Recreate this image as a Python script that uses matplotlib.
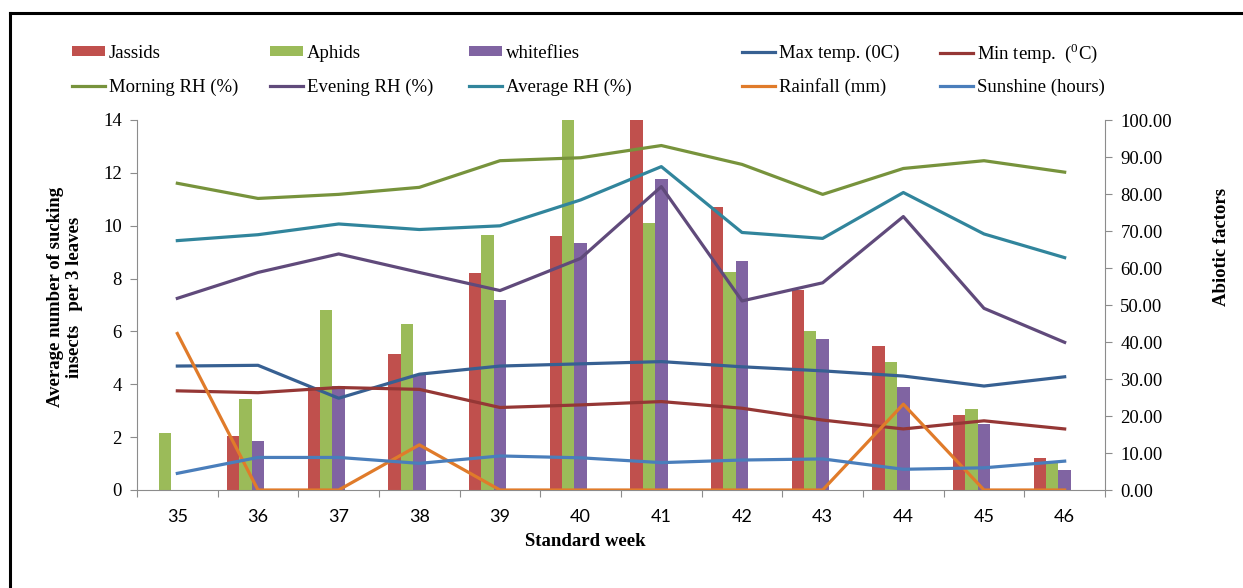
import matplotlib
matplotlib.use('Agg')
import matplotlib.pyplot as plt
from matplotlib.lines import Line2D
import numpy as np

weeks = ['35', '36', '37', '38', '39', '40', '41', '42', '43', '44', '45', '46']
jassids = [0, 2.05, 3.9, 5.15, 8.2, 9.6, 14.0, 10.7, 7.55, 5.45, 2.85, 1.2]
aphids = [2.15, 3.45, 6.8, 6.3, 9.65, 14.0, 10.1, 8.25, 6.0, 4.85, 3.05, 1.1]
whiteflies = [0, 1.85, 3.95, 4.35, 7.2, 9.35, 11.75, 8.65, 5.7, 3.9, 2.5, 0.75]
max_temp = [33.5, 33.7, 24.8, 31.3, 33.5, 34.1, 34.7, 33.3, 32.2, 30.8, 28.1, 30.6]
min_temp = [26.8, 26.3, 27.7, 27.2, 22.3, 23.0, 23.9, 22.1, 18.9, 16.5, 18.7, 16.5]
morning_rh = [82.9, 78.8, 79.9, 81.8, 89.0, 89.8, 93.1, 88.0, 79.9, 86.9, 89.0, 85.9]
evening_rh = [51.8, 58.8, 63.8, 58.8, 53.9, 62.6, 82.0, 51.1, 56.0, 73.9, 49.1, 39.9]
average_rh = [67.4, 69.0, 71.9, 70.4, 71.4, 78.4, 87.4, 69.6, 68.0, 80.4, 69.2, 62.8]
rainfall = [42.3, 0, 0, 12.2, 0, 0, 0, 0, 0, 23.2, 0, 0]
sunshine = [4.5, 8.8, 8.8, 7.2, 9.2, 8.7, 7.4, 8.1, 8.4, 5.6, 6.0, 7.8]

plt.rcParams['font.family'] = ['Liberation Serif', 'DejaVu Serif']
plt.rcParams['mathtext.fontset'] = 'custom'
plt.rcParams['mathtext.rm'] = 'Liberation Serif'

W, H = 1243, 588
fig = plt.figure(figsize=(W / 100, H / 100), dpi=100)
L, R, B, T = 137, 1105, 490, 120
ax = fig.add_axes([L / W, 1 - B / H, (R - L) / W, (B - T) / H])
ax2 = ax.twinx()

x = np.arange(len(weeks))
w = 0.154
b1 = ax.bar(x - 2 * w, jassids, w, color='#C0504D', label='Jassids')
b2 = ax.bar(x - w, aphids, w, color='#9BBB59', label='Aphids')
b3 = ax.bar(x, whiteflies, w, color='#8064A2', label='whiteflies')

lw = 2.3
l_max, = ax2.plot(x, max_temp, color='#376092', lw=lw, label='Max temp. (0C)')
l_min, = ax2.plot(x, min_temp, color='#953735', lw=lw, label=r'Min temp.  ($^{0}$C)')
l_mor, = ax2.plot(x, morning_rh, color='#77933C', lw=lw, label='Morning RH (%)')
l_eve, = ax2.plot(x, evening_rh, color='#604A7B', lw=lw, label='Evening RH (%)')
l_avg, = ax2.plot(x, average_rh, color='#31859C', lw=lw, label='Average RH (%)')
l_rain, = ax2.plot(x, rainfall, color='#E07B2A', lw=lw, label='Rainfall (mm)')
l_sun, = ax2.plot(x, sunshine, color='#4A7EBB', lw=lw, label='Sunshine (hours)')

ax.set_xlim(-0.5, len(weeks) - 0.5)
ax.set_ylim(0, 14)
ax2.set_ylim(0, 100)
ax.set_yticks(np.arange(0, 15, 2))
ax2.set_yticks(np.arange(0, 101, 10))
ax2.set_yticklabels([f'{v:.2f}' for v in np.arange(0, 101, 10)])

ax.set_xticks(np.arange(-0.5, len(weeks), 1.0))
ax.set_xticklabels([])
ax.set_xticks(x, minor=True)
ax.set_xticklabels(weeks, minor=True, fontfamily='Lato', fontsize=13)
ax.tick_params(axis='x', which='minor', length=0, pad=14)
ax.tick_params(axis='x', which='major', length=5, color='#8c8c8c', direction='out')

ax.tick_params(axis='y', length=5, color='#8c8c8c', labelsize=13.5, pad=6)
ax2.tick_params(axis='y', length=5, color='#8c8c8c', labelsize=13.5, pad=6)

for a in (ax, ax2):
    a.spines['top'].set_visible(False)
    for s in ('left', 'right', 'bottom'):
        a.spines[s].set_color('#8c8c8c')
ax.spines['right'].set_visible(False)
ax2.spines['left'].set_visible(False)
ax2.spines['bottom'].set_visible(False)

fig.text(585 / W, 1 - 542 / H, 'Standard week', ha='center', va='center',
         fontsize=13.5, fontweight='bold')
fig.text(65 / W, 1 - 297 / H, 'Average number of sucking\ninsects   per 3 leaves',
         ha='center', va='center', rotation=90, fontsize=13.5, fontweight='bold',
         linespacing=1.15)
fig.text(1222 / W, 1 - 247 / H, 'Abiotic factors', ha='center', va='center',
         rotation=90, fontsize=13.5, fontweight='bold')

rows = [[b1, b2, b3, l_max, l_min], [l_mor, l_eve, l_avg, l_rain, l_sun]]
row_y = [53, 87]
col_x = [72, 270, 469, 742, 940]
for handles, ry in zip(rows, row_y):
    for h, cx in zip(handles, col_x):
        fig.legend([h], [h.get_label()], loc='center left',
                   bbox_to_anchor=(cx / W, 1 - ry / H),
                   frameon=False, fontsize=13.5, borderpad=0, borderaxespad=0,
                   handlelength=1.75, handleheight=0.4, handletextpad=0.2)

fig.add_artist(Line2D([10 / W, 1], [1 - 13 / H, 1 - 13 / H], color='black', lw=2.2))
fig.add_artist(Line2D([10 / W, 10 / W], [0, 1 - 13 / H], color='black', lw=2.2))

fig.savefig('out.png', dpi=100)
